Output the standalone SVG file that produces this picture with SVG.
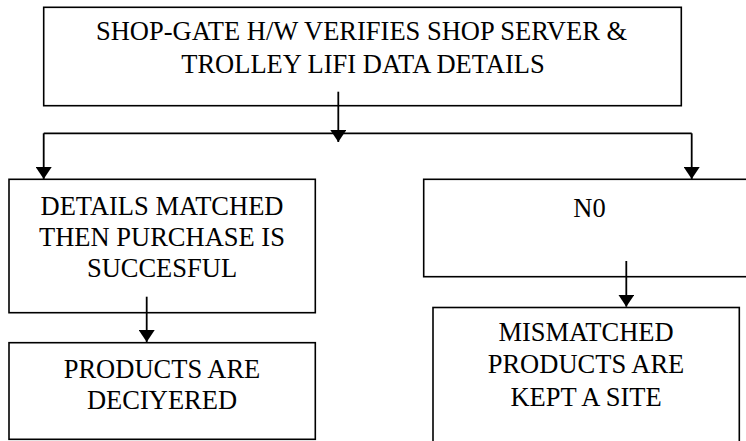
<svg xmlns="http://www.w3.org/2000/svg" width="746" height="441" viewBox="0 0 746 441">
<style>
text{font-family:"Times New Roman","Liberation Serif",Tinos,serif;font-size:26.5px;fill:#000;text-anchor:middle}
.box{fill:#fff;stroke:#000;stroke-width:1.6}
.c{fill:none;stroke:#000;stroke-width:1.8}
</style>
<defs>
<marker id="ah" viewBox="0 0 12 16" refX="12" refY="8" markerWidth="12" markerHeight="16" markerUnits="userSpaceOnUse" orient="auto">
<path d="M0,0 L12,8 L0,16 Z" fill="#000"/>
</marker>
</defs>
<rect width="746" height="441" fill="#fff"/>
<g id="n-top">
<rect class="box" x="43.7" y="7.3" width="637.6" height="98.4"/>
<text x="361.5" y="40">SHOP-GATE H/W VERIFIES SHOP SERVER &amp;</text>
<text x="363" y="73">TROLLEY LIFI DATA DETAILS</text>
</g>
<g id="n-matched">
<rect class="box" x="9" y="179.3" width="306.3" height="133.4"/>
<text x="162" y="215">DETAILS MATCHED</text>
<text x="162" y="246">THEN PURCHASE IS</text>
<text x="162" y="277">SUCCESFUL</text>
</g>
<g id="n-delivered">
<rect class="box" x="9" y="342.7" width="306.3" height="96.6"/>
<text x="162" y="378">PRODUCTS ARE</text>
<text x="162" y="409">DECIYERED</text>
</g>
<g id="n-no">
<rect class="box" x="423.7" y="179.3" width="340" height="97.4"/>
<text x="589.5" y="217">N0</text>
</g>
<g id="n-mismatched">
<rect class="box" x="433" y="307.5" width="306.3" height="150"/>
<text x="586" y="341">MISMATCHED</text>
<text x="586" y="373">PRODUCTS ARE</text>
<text x="586" y="405.5">KEPT A SITE</text>
</g>
<g id="connectors">
<path class="c" d="M338.3,91.7 V142" marker-end="url(#ah)"/>
<path class="c" d="M43.7,133.3 H691.7"/>
<path class="c" d="M43.7,133.3 V179" marker-end="url(#ah)"/>
<path class="c" d="M691.7,133.3 V179" marker-end="url(#ah)"/>
<path class="c" d="M146.7,296.7 V342" marker-end="url(#ah)"/>
<path class="c" d="M626.3,261 V306.7" marker-end="url(#ah)"/>
</g>
</svg>
